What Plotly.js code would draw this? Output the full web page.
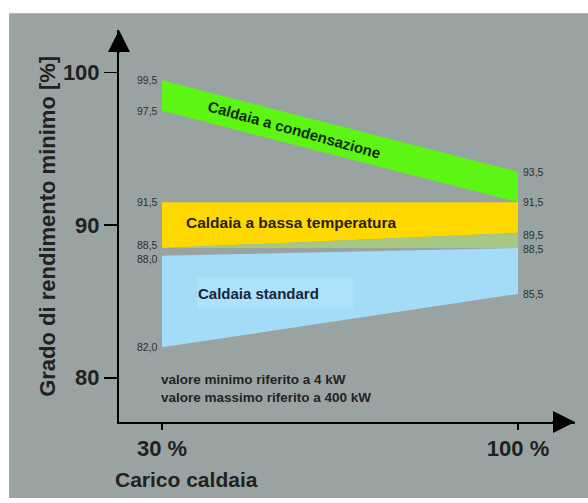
<!DOCTYPE html>
<html>
<head>
<meta charset="utf-8">
<script src="https://cdn.plot.ly/plotly-3.0.1.min.js"></script>
<style>
  html, body { margin: 0; padding: 0; background: #ffffff; }
  #chart { width: 588px; height: 503px; }
</style>
</head>
<body>
<div id="chart"></div>
<script>
// Boiler load (x axis, %)
const carico = [30, 100];

// Minimum efficiency bands [%] at 30 % and 100 % load
const condensazioneMax = [99.5, 93.5];
const condensazioneMin = [97.5, 91.5];
const bassaTempMax = [91.5, 91.5];
const bassaTempMin = [88.5, 89.5];
const bassaTempMinBase = [88.5, 88.5];
const standardMax = [88.0, 88.5];
const standardMin = [82.0, 85.5];

// Value labels written beside the bands
const etichetteSinistra = [99.5, 97.5, 91.5, 88.5, 88.0, 82.0];
const etichetteDestra = [93.5, 91.5, 89.5, 88.5, 85.5];

// Axis ticks
const yTicks = [80, 90, 100];
const xTicks = [30, 100];
const xTickLabels = ['30 %', '100 %'];

const serie = [
  { nome: 'Caldaia a condensazione', max: condensazioneMax, min: condensazioneMin, colore: '#5cf514' },
  { nome: 'Caldaia a bassa temperatura', max: bassaTempMax, min: bassaTempMin, colore: '#ffd800' },
  { nome: 'Caldaia a bassa temperatura (base)', max: bassaTempMin, min: bassaTempMinBase, colore: '#a6c884' },
  { nome: 'Caldaia standard', max: standardMax, min: standardMin, colore: '#a4dcf8' }
];

const traces = serie.map(s => ({
  type: 'scatter',
  mode: 'lines',
  name: s.nome,
  x: [carico[0], carico[1], carico[1], carico[0], carico[0]],
  y: [s.max[0], s.max[1], s.min[1], s.min[0], s.max[0]],
  fill: 'toself',
  fillcolor: s.colore,
  line: { width: 0, color: s.colore },
  hoverinfo: 'skip',
  showlegend: false
}));

const fmt = v => v.toFixed(1).replace('.', ',');
const bandFont = 'Liberation Sans, Arial, sans-serif';

// small vertical nudges so that close labels do not collide
const shiftSinistra = { '88.5': 3, '88': -3 };
const shiftDestra = { '89.5': -2, '88.5': -1 };

// band midline at a given load, used to place the band names
const lerp = (arr, x) => arr[0] + (arr[1] - arr[0]) * (x - carico[0]) / (carico[1] - carico[0]);
const mid = (a, b, x) => (lerp(a, x) + lerp(b, x)) / 2;

const xRange = [21.55, 111.2];
const yRange = [77.1, 102.8];

const annotations = [];

etichetteSinistra.forEach(v => annotations.push({
  x: carico[0], y: v, xref: 'x', yref: 'y', text: fmt(v), showarrow: false,
  xanchor: 'right', yanchor: 'middle', xshift: -2, yshift: shiftSinistra[String(v)] || 0,
  font: { family: bandFont, size: 10.5, color: '#2b2f30' }
}));
etichetteDestra.forEach(v => annotations.push({
  x: carico[1], y: v, xref: 'x', yref: 'y', text: fmt(v), showarrow: false,
  xanchor: 'left', yanchor: 'middle', xshift: 3, yshift: shiftDestra[String(v)] || 0,
  font: { family: bandFont, size: 10.5, color: '#2b2f30' }
}));

annotations.push(
  {
    x: 56, y: mid(condensazioneMax, condensazioneMin, 56), xref: 'x', yref: 'y',
    text: '<b>Caldaia a condensazione</b>', showarrow: false, textangle: 15.5,
    font: { family: bandFont, size: 15, color: '#0c2a06' }
  },
  {
    x: 55.5, y: mid(bassaTempMax, bassaTempMin, 55), xref: 'x', yref: 'y',
    text: '<b>Caldaia a bassa temperatura</b>', showarrow: false,
    font: { family: bandFont, size: 15.5, color: '#2a2208' }
  },
  {
    x: 36.9, y: mid(standardMax, standardMin, 49), xref: 'x', yref: 'y',
    text: '<b>Caldaia standard</b>', showarrow: false,
    xanchor: 'left', yanchor: 'middle', align: 'left', width: 155, height: 30,
    bgcolor: 'rgba(190,232,252,0.4)', borderpad: 0,
    font: { family: bandFont, size: 15, color: '#15263a' }
  },
  {
    x: 29.4, y: 79.3, xref: 'x', yref: 'y', xanchor: 'left', yanchor: 'middle', align: 'left',
    text: '<b>valore minimo riferito a 4 kW<br>valore massimo riferito a 400 kW</b>',
    showarrow: false,
    font: { family: bandFont, size: 13.5, color: '#1f2424' }
  },
  // axis arrow heads
  {
    x: xRange[0], y: yRange[1], xref: 'x', yref: 'y', ax: 0, ay: 24, text: '',
    showarrow: true, arrowhead: 2, arrowsize: 2.2, arrowwidth: 2, arrowcolor: '#000'
  },
  {
    x: xRange[1], y: yRange[0], xref: 'x', yref: 'y', ax: -24, ay: 0, text: '',
    showarrow: true, arrowhead: 2, arrowsize: 2.2, arrowwidth: 2, arrowcolor: '#000'
  },
  // axis titles
  {
    x: -0.19, y: 0.5, xref: 'paper', yref: 'paper', textangle: -90,
    text: '<b>Grado di rendimento minimo [%]</b>', showarrow: false,
    font: { family: bandFont, size: 22, color: '#1e2222' }
  },
  {
    x: -0.013, y: -0.147, xref: 'paper', yref: 'paper', xanchor: 'left', yanchor: 'middle',
    text: '<b>Carico caldaia</b>', showarrow: false,
    font: { family: bandFont, size: 21, color: '#1e2222' }
  }
);

const layout = {
  width: 588,
  height: 503,
  margin: { l: 119, r: 13, t: 30, b: 81 },
  paper_bgcolor: '#ffffff',
  plot_bgcolor: 'rgba(0,0,0,0)',
  showlegend: false,
  shapes: [{
    type: 'rect', xref: 'paper', yref: 'paper', layer: 'below',
    x0: -0.241, x1: 1.03, y0: -0.194, y1: 1.043,
    fillcolor: '#99a4a2', line: { width: 0 }
  }],
  xaxis: {
    range: xRange, showgrid: false, zeroline: false,
    showline: true, linecolor: '#000', linewidth: 2,
    tickmode: 'array', tickvals: xTicks, ticktext: xTickLabels.map(t => '<b>' + t + '</b>'),
    ticks: 'outside', ticklen: 6, tickwidth: 1.5, tickcolor: '#000',
    tickfont: { family: bandFont, size: 22, color: '#1e2222' },
    fixedrange: true
  },
  yaxis: {
    range: yRange, showgrid: false, zeroline: false,
    showline: true, linecolor: '#000', linewidth: 2,
    tickmode: 'array', tickvals: yTicks, ticktext: yTicks.map(t => '<b>' + t + '</b>'),
    ticks: 'outside', ticklen: 13, tickwidth: 1.5, tickcolor: '#000',
    tickfont: { family: bandFont, size: 22, color: '#1e2222' },
    fixedrange: true
  },
  annotations: annotations
};

Plotly.newPlot('chart', traces, layout, { displayModeBar: false, staticPlot: true });
</script>
</body>
</html>
